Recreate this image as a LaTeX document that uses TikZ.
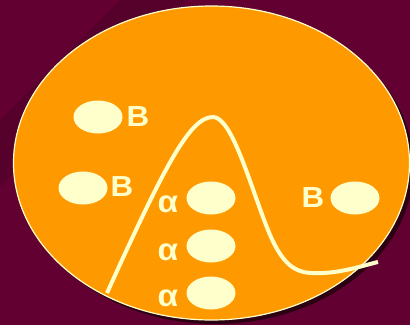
\documentclass[tikz,border=0pt]{standalone}
\usepackage{fontspec}
\setmainfont{Liberation Sans}
\usetikzlibrary{shapes.geometric}
\definecolor{wine}{RGB}{98,0,50}
\definecolor{darkwine}{RGB}{86,0,44}
\definecolor{shadowwine}{RGB}{42,0,18}
\definecolor{amber}{RGB}{255,153,0}
\definecolor{cream}{RGB}{255,255,204}
\tikzset{
  cell/.style={ellipse,draw=cream,fill=amber,line width=1.2pt,minimum width=396pt,minimum height=314pt,inner sep=0pt},
  blob/.style={ellipse,fill=cream,minimum width=49pt,minimum height=33pt,inner sep=0pt},
  lbl/.style={text=cream,font=\bfseries\fontsize{29}{29}\selectfont,inner sep=0pt,xscale=1.08},
  albl/.style={lbl,font=\bfseries\fontsize{31}{31}\selectfont},
  wave/.style={draw=cream,line width=4pt}
}
\begin{document}
\begin{tikzpicture}[x=1pt,y=-1pt]
    \useasboundingbox (0,0) rectangle (410,325);
    \fill[wine] (0,0) rectangle (410,325);
    \fill[darkwine] (120,0) -- (187,0) -- (0,187) -- (0,120) -- cycle;
    \fill[shadowwine] (215.5,167) ellipse [x radius=198,y radius=157];
    \node[cell] (cell) at (211.5,163) {};
    \node[blob] (b1) at (98,117) {}; \node[lbl] (lb1) at (138,117) {B};
    \node[blob] (b2) at (83,188) {}; \node[lbl] (lb2) at (122,187) {B};
    \node[blob] (b3) at (355,198) {}; \node[lbl] (lb3) at (313,198) {B};
    \node[blob] (a1) at (211,198) {}; \node[albl] (la1) at (168,204) {α};
    \node[blob] (a2) at (211,246) {}; \node[albl] (la2) at (168,252) {α};
    \node[blob] (a3) at (211,293) {}; \node[albl] (la3) at (168,298) {α};
    \draw[wave] (107,293) .. controls (165,165) and (190,117) .. (213,117)
      .. controls (232,117) and (250,185) .. (268,230)
      .. controls (285,272) and (300,274) .. (323,273)
      .. controls (345,272) and (365,265) .. (378,262);
  \end{tikzpicture}
\end{document}
